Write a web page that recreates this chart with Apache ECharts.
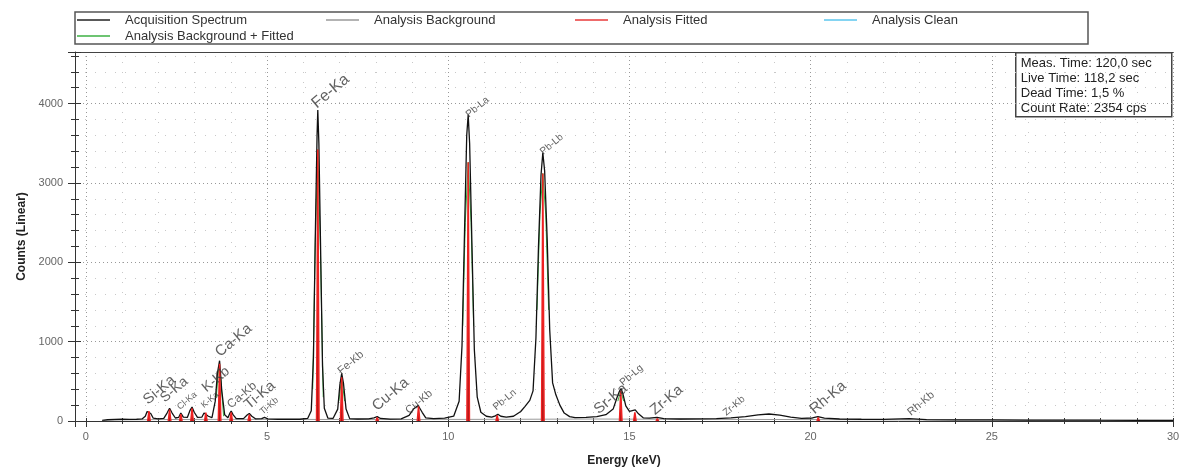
<!DOCTYPE html>
<html>
<head>
<meta charset="utf-8">
<title>XRF spectrum</title>
<script src="https://cdn.jsdelivr.net/npm/echarts@6/dist/echarts.min.js"></script>
<style>
  html, body { margin: 0; padding: 0; background: #fff; }
  #spectrumChart { width: 1179px; height: 468px; }
</style>
</head>
<body>
<div id="spectrumChart"></div>
<script>
// Acquisition spectrum, [energy keV, counts]
const acquisition = [
  [0.45, 8], [0.6, 18], [0.8, 20], [1.0, 22], [1.2, 20], [1.4, 22], [1.55, 26],
  [1.64, 60], [1.69, 120], [1.74, 140], [1.79, 95], [1.86, 35], [2.0, 28],
  [2.15, 32], [2.24, 100], [2.31, 160], [2.38, 100], [2.47, 38], [2.56, 45],
  [2.62, 100], [2.69, 48], [2.80, 45], [2.87, 130], [2.93, 175], [2.99, 110],
  [3.08, 45], [3.20, 48], [3.26, 100], [3.31, 120], [3.38, 60], [3.48, 42],
  [3.57, 250], [3.63, 600], [3.69, 760], [3.75, 380], [3.83, 80], [3.92, 42],
  [3.97, 95], [4.01, 125], [4.06, 80], [4.15, 30], [4.35, 30], [4.45, 75],
  [4.51, 95], [4.58, 60], [4.68, 28], [4.85, 30], [4.93, 45], [5.02, 28],
  [5.3, 22], [5.6, 24], [5.9, 22], [6.12, 32], [6.22, 130], [6.28, 800],
  [6.33, 2300], [6.38, 3600], [6.40, 3920], [6.43, 3500], [6.48, 2100],
  [6.53, 700], [6.58, 160], [6.68, 35], [6.82, 32], [6.95, 150], [7.01, 460],
  [7.06, 600], [7.11, 470], [7.18, 150], [7.28, 30], [7.5, 25], [7.8, 28],
  [7.95, 40], [8.04, 55], [8.13, 32], [8.4, 24], [8.7, 28], [8.92, 70],
  [9.04, 150], [9.17, 195], [9.28, 110], [9.38, 40], [9.6, 30], [9.9, 35],
  [10.15, 60], [10.3, 250], [10.38, 950], [10.45, 2400], [10.51, 3600],
  [10.55, 3860], [10.59, 3500], [10.65, 2300], [10.72, 900], [10.8, 300],
  [10.9, 110], [11.05, 60], [11.2, 48], [11.3, 65], [11.37, 85], [11.45, 60],
  [11.6, 50], [11.8, 60], [12.0, 120], [12.12, 185], [12.25, 260], [12.34, 380],
  [12.42, 1050], [12.49, 2200], [12.56, 3100], [12.61, 3380], [12.66, 3150],
  [12.73, 2300], [12.8, 1150], [12.88, 480], [12.97, 330], [13.08, 200],
  [13.2, 100], [13.35, 55], [13.5, 42], [13.8, 45], [14.1, 55], [14.35, 80],
  [14.55, 150], [14.66, 300], [14.73, 380], [14.77, 410], [14.82, 340],
  [14.9, 190], [15.0, 120], [15.08, 130], [15.16, 140], [15.25, 90], [15.38, 40],
  [15.55, 35], [15.76, 45], [15.95, 30], [16.4, 25], [16.9, 28], [17.4, 30],
  [17.8, 40], [18.2, 55], [18.55, 78], [18.85, 88], [19.15, 75], [19.45, 50],
  [19.75, 32], [20.05, 38], [20.2, 55], [20.38, 35], [20.8, 25], [21.4, 22],
  [22.0, 20], [22.72, 30], [23.2, 18], [24.0, 15], [25.0, 14], [26.0, 12],
  [27.0, 12], [28.0, 10], [29.0, 9], [30.0, 8]
];

// Analysis background
const background = [
  [0.5, 5], [1.0, 14], [2.0, 18], [3.0, 20], [4.0, 21], [5.0, 20], [6.0, 20],
  [8.0, 18], [10.0, 20], [12.0, 22], [14.0, 25], [16.0, 22], [18.0, 20],
  [20.0, 18], [22.0, 15], [25.0, 12], [30.0, 8]
];

// Fitted lines: energy and fitted height
const fitEnergy = [1.74, 2.31, 2.62, 2.93, 3.31, 3.69, 4.01, 4.51, 6.40, 7.06,
  8.04, 9.18, 10.55, 11.35, 12.61, 14.76, 15.15, 15.77, 20.21];
const fitHeight = [125, 145, 85, 160, 105, 720, 110, 80, 3420, 550,
  45, 185, 3260, 70, 3120, 380, 110, 30, 45];

// Background + fitted, visible only on the flanks of the big peaks
const bgFitted = [
  [3.60, 300], [3.66, 650], [3.72, 560], [3.80, 60], '-',
  [6.26, 400], [6.33, 2250], [6.40, 3420], [6.47, 2200], [6.55, 300], '-',
  [6.98, 250], [7.06, 550], [7.14, 250], '-',
  [10.40, 1200], [10.47, 2500], [10.55, 3260], [10.63, 2500], [10.70, 1200], '-',
  [12.45, 1400], [12.53, 2600], [12.61, 3120], [12.69, 2600], [12.77, 1400], '-',
  [14.68, 250], [14.76, 380], [14.84, 250]
];

// Peak annotations: text, energy, counts, font size
const peakLabels = [
  ['Si-Ka', 1.76, 170, 15], ['S-Ka', 2.22, 200, 14], ['Cl-Ka', 2.62, 120, 9],
  ['K-Ka', 3.28, 140, 9], ['K-Kb', 3.37, 330, 14], ['Ca-Ka', 3.75, 770, 15],
  ['Ca-Kb', 4.04, 130, 12], ['Ti-Ka', 4.55, 110, 15], ['Ti-Kb', 4.9, 60, 9],
  ['Fe-Ka', 6.42, 3900, 16], ['Fe-Kb', 7.08, 560, 11], ['Cu-Ka', 8.08, 90, 15],
  ['Cu-Kb', 8.95, 60, 11], ['Pb-La', 10.6, 3800, 10], ['Pb-Ln', 11.35, 110, 10],
  ['Pb-Lb', 12.65, 3330, 10], ['Sr-Ka', 14.2, 50, 15], ['Pb-Lg', 14.85, 420, 10],
  ['Zr-Ka', 15.75, 40, 15], ['Zr-Kb', 17.7, 40, 10], ['Rh-Ka', 20.15, 50, 15],
  ['Rh-Kb', 22.8, 40, 11]
];

const infoLines = ['Meas. Time: 120,0 sec', 'Live Time: 118,2 sec',
  'Dead Time: 1,5 %', 'Count Rate: 2354 cps'];

const legendNames = ['Acquisition Spectrum', 'Analysis Background', 'Analysis Fitted',
  'Analysis Clean', 'Analysis Background + Fitted'];

const FONT = '"Liberation Sans", Arial, sans-serif';

// narrow red spikes, broken between lines
const fitted = [];
fitEnergy.forEach((e, i) => {
  fitted.push([e - 0.035, 0], [e, fitHeight[i]], [e + 0.035, 0], '-');
});

const chart = echarts.init(document.getElementById('spectrumChart'));

const xCommon = { type: 'value', min: -0.3, max: 30, splitNumber: 6 };
const yCommon = { type: 'value', min: 0, max: 4650, interval: 1000 };

chart.setOption({
  animation: false,
  textStyle: { fontFamily: FONT },
  grid: { left: 75, right: 6, top: 52, bottom: 47, containLabel: false, outerBoundsMode: 'none' },
  legend: {
    data: legendNames,
    left: 75, top: 12, width: 1040,
    padding: [1, 17, 1, 2],
    icon: 'rect',
    itemGap: 2, itemWidth: 33, itemHeight: 1.5,
    borderColor: '#555', borderWidth: 1.5, backgroundColor: '#fff',
    textStyle: { fontSize: 13, color: '#333', width: 199, lineHeight: 14, padding: [0, 0, 0, 10], fontFamily: FONT }
  },
  xAxis: [
    Object.assign({}, xCommon, {
      name: 'Energy (keV)', nameLocation: 'middle', nameGap: 34,
      nameTextStyle: { fontWeight: 'bold', fontSize: 12, color: '#222' },
      axisLine: { show: true, onZero: false, lineStyle: { color: '#333' } },
      axisTick: { show: true, length: 6, lineStyle: { color: '#333' } },
      minorTick: { show: true, splitNumber: 5, length: 3, lineStyle: { color: '#333' } },
      axisLabel: { showMinLabel: false, color: '#666', fontSize: 11, margin: 10 },
      splitLine: { show: true, lineStyle: { type: [1, 3], color: '#999' } },
      minorSplitLine: { show: true, lineStyle: { type: [1, 9], color: '#c8c8c8' } }
    }),
    Object.assign({}, xCommon, {
      position: 'bottom', offset: 0,
      axisLine: { show: false, onZero: false },
      axisTick: { show: true, inside: true, length: 3, lineStyle: { color: '#333' } },
      minorTick: { show: true, splitNumber: 5, length: 3, lineStyle: { color: '#333' } },
      axisLabel: { show: false }, splitLine: { show: false }
    }),
    Object.assign({}, xCommon, {
      position: 'top', offset: 0,
      axisLine: { show: true, onZero: false, lineStyle: { color: '#444' } },
      axisTick: { show: false }, axisLabel: { show: false }, splitLine: { show: false }
    })
  ],
  yAxis: [
    Object.assign({}, yCommon, {
      name: 'Counts (Linear)', nameLocation: 'middle', nameGap: 47,
      nameTextStyle: { fontWeight: 'bold', fontSize: 12, color: '#222' },
      axisLine: { show: true, onZero: false, lineStyle: { color: '#333' } },
      axisTick: { show: true, length: 7, lineStyle: { color: '#333' } },
      minorTick: { show: true, splitNumber: 5, length: 4, lineStyle: { color: '#333' } },
      axisLabel: { showMaxLabel: false, color: '#666', fontSize: 11, margin: 12, formatter: v => String(v) },
      splitLine: { show: true, lineStyle: { type: [1, 3], color: '#999' } },
      minorSplitLine: { show: true, lineStyle: { type: [1, 9], color: '#c8c8c8' } }
    }),
    Object.assign({}, yCommon, {
      position: 'left', offset: 0,
      axisLine: { show: false, onZero: false },
      axisTick: { show: true, inside: true, length: 6, lineStyle: { color: '#333' } },
      minorTick: { show: true, splitNumber: 5, length: 4, lineStyle: { color: '#333' } },
      axisLabel: { show: false }, splitLine: { show: false }
    })
  ],
  graphic: [{
    type: 'group', left: 1015, top: 52, z: 100,
    children: [
      { type: 'rect', shape: { x: 0, y: 0, width: 156, height: 64 },
        style: { fill: '#fff', stroke: '#444', lineWidth: 1.5 } },
      { type: 'text', x: 5, y: 3,
        style: { text: infoLines.join('\n'), font: '13px ' + FONT, lineHeight: 15, fill: '#222' } }
    ]
  }],
  series: [
    {
      name: 'Analysis Background', type: 'line', data: background, symbol: 'none', z: 2,
      lineStyle: { color: '#9a9a9a', width: 1 }, itemStyle: { color: '#9a9a9a' }
    },
    {
      name: 'Analysis Background + Fitted', type: 'line', data: bgFitted, symbol: 'none', z: 3,
      lineStyle: { color: '#3cb043', width: 1 }, itemStyle: { color: '#3cb043' }
    },
    {
      name: 'Acquisition Spectrum', type: 'line', data: acquisition, symbol: 'none', z: 4,
      lineStyle: { color: '#111', width: 1.3 }, itemStyle: { color: '#222' }
    },
    {
      name: 'Analysis Fitted', type: 'line', data: fitted, symbol: 'none', z: 5,
      lineStyle: { color: '#ee2222', width: 1.5 }, itemStyle: { color: '#e83a3a' },
      areaStyle: { color: '#a01414', opacity: 1 }
    },
    {
      name: 'Analysis Clean', type: 'line', data: [], symbol: 'none',
      lineStyle: { color: '#4fc3f7', width: 1 }, itemStyle: { color: '#5bc6ee' }
    },
    {
      name: 'labels', type: 'scatter', symbolSize: 1, silent: true, z: 6,
      itemStyle: { color: 'rgba(0,0,0,0)' },
      data: peakLabels.map(p => ({
        value: [p[1], p[2]],
        label: { formatter: p[0], fontSize: p[3] }
      })),
      label: {
        show: true, position: 'right', distance: 0, rotate: 40,
        align: 'left', verticalAlign: 'bottom', color: '#3a3a3a'
      }
    }
  ]
});
</script>
</body>
</html>
